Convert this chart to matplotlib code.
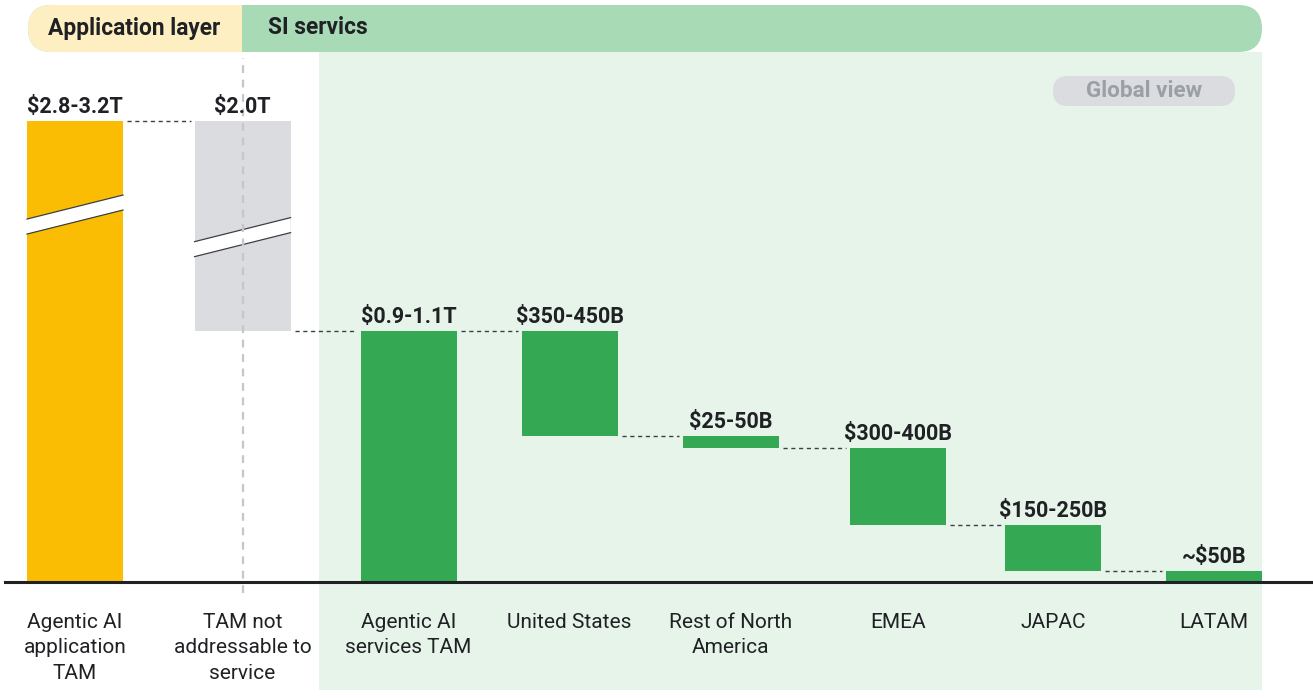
import matplotlib.pyplot as plt
from matplotlib.patches import FancyBboxPatch, Rectangle, Polygon

plt.rcParams['font.family'] = ['Roboto', 'DejaVu Sans']

# --- data ($B) ---
categories = ["Agentic AI\napplication\nTAM", "TAM not\naddressable to\nservice",
              "Agentic AI\nservices TAM", "United States", "Rest of North\nAmerica",
              "EMEA", "JAPAC", "LATAM"]
value_labels = ["$2.8-3.2T", "$2.0T", "$0.9-1.1T", "$350-450B", "$25-50B",
                "$300-400B", "$150-250B", "~$50B"]
app_tam = 3000
not_addressable = 2000
services_tam = 1000
region_values = [420, 48, 305, 185, 42]   # US, rest of NA, EMEA, JAPAC, LATAM

# --- layout ---
W, H = 1313, 698
col_x = [0, 1.03, 2.05, 3.04, 4.03, 5.06, 6.01, 7.0]   # column centres (slot units)
slot_px = 162.7
x0_px = 75
bar_w = 0.59
base_px = 582           # baseline, px from top
px_per_b = 0.251        # vertical scale
break_top = 1837        # broken bars are cut off at this height
break_mid = [1464, 1374]

YELLOW = "#fbbc04"
GREY = "#dadce0"
GREEN = "#34a853"
TEXT = "#202124"
DASH = "#3c4043"

# waterfall geometry
bottoms = [0, services_tam, 0]
tops = [min(app_tam, break_top), min(services_tam + not_addressable, break_top), services_tam]
level = services_tam
for v in region_values:
    bottoms.append(level - v)
    tops.append(level)
    level -= v
colors = [YELLOW, GREY] + [GREEN] * 6

fig = plt.figure(figsize=(W / 100, H / 100), dpi=100)

# background layer in pixel coordinates
bg = fig.add_axes([0, 0, 1, 1])
bg.set_xlim(0, W)
bg.set_ylim(H, 0)
bg.axis('off')
bg.add_patch(Rectangle((319, 52), 1262 - 319, 690 - 52, color="#e6f4ea", lw=0))
r = 23.5
bg.add_patch(FancyBboxPatch((28, 5), 1262 - 28, 47, boxstyle=f"round,pad=0,rounding_size={r}",
                            fc="#a8dab5", ec="none"))
bg.add_patch(FancyBboxPatch((28, 5), 242 - 28 + 40, 47, boxstyle=f"round,pad=0,rounding_size={r}",
                            fc="#feefc3", ec="none"))
bg.add_patch(Rectangle((242, 5), 60, 47, fc="#a8dab5", ec="none"))
bg.text(48, 34.5, "Application layer", fontsize=16.4, fontweight='bold', color=TEXT,
        va='baseline', ha='left')
bg.text(268, 34.5, "SI servics", fontsize=16.4, fontweight='bold', color=TEXT,
        va='baseline', ha='left')
bg.add_patch(FancyBboxPatch((1053, 76), 182, 30, boxstyle="round,pad=0,rounding_size=15",
                            fc=GREY, ec="none"))
bg.text(1144, 97, "Global view", fontsize=16.2, fontweight='bold', color="#9aa0a6",
        va='baseline', ha='center')

# chart layer
ax = fig.add_axes([0, 0, 1, 1], zorder=2)
ax.patch.set_alpha(0)
ax.axis('off')
ax.set_xlim(-x0_px / slot_px, (W - x0_px) / slot_px)
ax.set_ylim(-(H - base_px) / px_per_b, base_px / px_per_b)

ax.bar(col_x, [t - b for t, b in zip(tops, bottoms)], bottom=bottoms, width=bar_w,
       color=colors, zorder=2)

# axis-break bands on the truncated bars
half = 7.5 / px_per_b
tilt = 12 / px_per_b
for i, ym in enumerate(break_mid):
    xl, xr = col_x[i] - bar_w / 2, col_x[i] + bar_w / 2
    band = Polygon([(xl, ym - tilt - half), (xr, ym + tilt - half),
                    (xr, ym + tilt + half), (xl, ym - tilt + half)],
                   closed=True, fc="white", ec="none", zorder=3)
    ax.add_patch(band)
    for s in (-half, half):
        ax.plot([xl, xr], [ym - tilt + s, ym + tilt + s], color="#3c4043", lw=0.9, zorder=4)

# dashed connectors between neighbouring bars
gap = 0.025
for i in range(len(col_x) - 1):
    y = tops[i + 1]
    ax.plot([col_x[i] + bar_w / 2 + gap, col_x[i + 1] - bar_w / 2 - gap], [y, y],
            color=DASH, lw=1.0, ls=(0, (3, 2.6)), zorder=2)

# separator between the two layers
ax.axvline(col_x[1], ymin=1 - 593 / H, ymax=1 - 58 / H, color="#c4c7c5", lw=1.6,
           ls=(0, (3.5, 3)), zorder=5)

ax.axhline(0, xmin=5 / W, xmax=1, color=TEXT, lw=2.2, zorder=6)

for x, t, lab in zip(col_x, tops, value_labels):
    ax.annotate(lab, (x, t), xytext=(0, 6), textcoords='offset points', ha='center',
                va='baseline', fontsize=15.5, fontweight='bold', color=TEXT, zorder=7)

for x, cat in zip(col_x, categories):
    ax.text(x, 1 - 613 / H, cat, transform=ax.get_xaxis_transform(), ha='center', va='top',
            fontsize=15, color=TEXT, linespacing=1.42)

fig.savefig("out.png", dpi=100)
